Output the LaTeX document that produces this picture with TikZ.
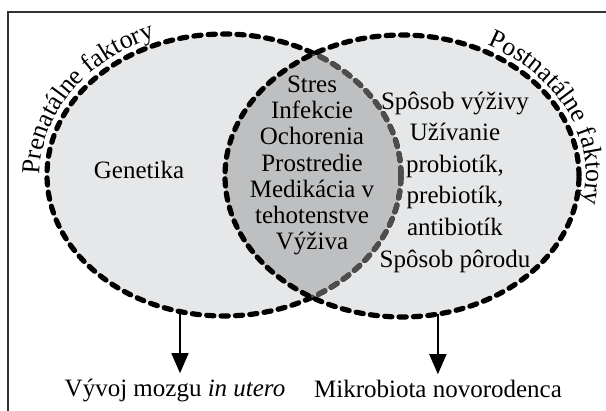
\documentclass[tikz,border=0pt]{standalone}
\usepackage{fontspec}
\setmainfont{Liberation Serif}
\usepackage{xcolor}
\usetikzlibrary{arrows.meta,decorations.text,calc}
\definecolor{vennfill}{HTML}{E6E7E8}
\definecolor{lensfill}{HTML}{BEBFC1}
\definecolor{innerline}{HTML}{4D4D4D}

\begin{document}
\begin{tikzpicture}[x=0.5pt,y=0.5pt,
    venn/.style={line width=2.6pt, dash pattern=on 3.6pt off 3.6pt, line cap=round},
    factor/.style={font=\fontsize{12.5}{13.1}\selectfont, align=center, inner sep=0pt},
    curved/.style={decorate, decoration={text along path, text align=center,
        text={|\fontsize{13}{13}\selectfont|#1}}},
    outarrow/.style={-{Triangle[width=8.5pt,length=10pt]}, line width=0.75pt, shorten >=3pt}]
    \useasboundingbox (0,0) rectangle (606,411);
    % Venn diagram of prenatal and postnatal factors
    \coordinate (pre) at (224,236);
    \coordinate (post) at (402,235);
    \draw[line width=1pt, draw=black!80] (606,399) -- (8,399) -- (8,0);

    \fill[vennfill] (pre) ellipse [x radius=177, y radius=141];
    \fill[vennfill] (post) ellipse [x radius=177, y radius=141];
    \begin{scope}
        \clip (pre) ellipse [x radius=177, y radius=141];
        \fill[lensfill] (post) ellipse [x radius=177, y radius=141];
    \end{scope}
    \draw[venn] (pre) ellipse [x radius=177, y radius=141];
    \begin{scope}
        \clip (post) ellipse [x radius=177, y radius=141];
        \draw[venn, draw=innerline] (pre) ellipse [x radius=177, y radius=141];
    \end{scope}
    \draw[venn] (post) ellipse [x radius=177, y radius=141];

    \path[curved={Prenatálne faktory}] ($(pre)+(192:184 and 148)$)
        arc[start angle=192, end angle=102, x radius=184, y radius=148];
    \path[curved={Postnatálne faktory}] ($(post)+(70:184 and 148)$)
        arc[start angle=70, end angle=-20, x radius=184, y radius=148];

    \node[factor] (genes) at (139,241) {Genetika};
    \node[factor] (shared) at (312,245.5) {Stres\\Infekcie\\Ochorenia\\Prostredie\\Medikácia v\\tehotenstve\\Výživa};
    \node[factor, font=\fontsize{12.5}{15.8}\selectfont] (postlist) at (455,229)
        {Spôsob výživy\\Užívanie\\probiotík,\\prebiotík,\\antibiotík\\Spôsob pôrodu};

    \coordinate (preBot) at ($(pre)+(255.6:177 and 141)$);
    \coordinate (postBot) at ($(post)+(281.7:177 and 141)$);
    \node[factor, anchor=base] (brain) at (175,14) {Vývoj mozgu \textit{in utero}};
    \node[factor, anchor=base] (micro) at (438,13) {Mikrobiota novorodenca};
    \draw[outarrow] (preBot) -- (preBot |- brain.north);
    \draw[outarrow] (postBot) -- (postBot |- micro.north);
\end{tikzpicture}
\end{document}
